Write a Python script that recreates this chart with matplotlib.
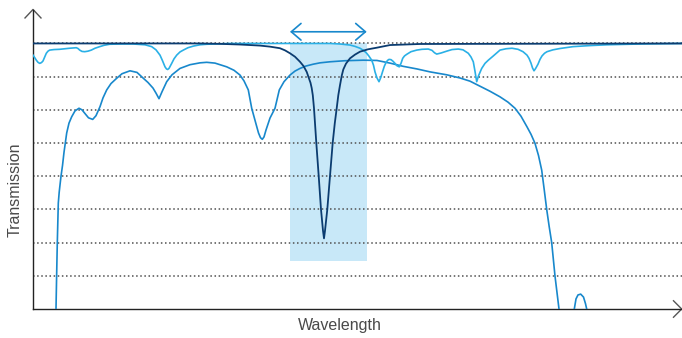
import matplotlib
matplotlib.use("Agg")
import matplotlib.pyplot as plt

# ---------------- data (wavelength in arbitrary units, transmission in %) ----------------
notch_x = [33, 200, 220, 240, 250, 260, 270, 275, 280, 285, 290, 295, 300, 303.5, 306.7, 309,
           310.5, 311.7, 312.8, 314, 316.3, 318.7, 321, 323, 324, 325, 327.3, 330, 332.7, 334.8,
           336.7, 338.3, 340, 341.7, 343.3, 346, 350, 355, 360, 368, 376.7, 390, 420, 682]
notch_y = [100, 100, 99.85, 99.6, 99.4, 99.2, 98.8, 98.5, 98.2, 97.4, 96.3, 95.0, 93.1, 91.5, 89.3, 86.8,
           85.2, 83.2, 80.5, 75.6, 62.6, 50.1, 37.5, 29.5, 26.6, 29.5, 37.5, 50.1, 62.6, 70.0,
           75.6, 80.5, 84.3, 87.8, 90.2, 92.4, 94.4, 95.8, 96.9, 97.8, 98.4, 99.4, 99.8, 100]

ripple_x = [33, 35, 36.3, 38, 39.7, 41.5, 43, 44.7, 46.3, 48, 49.7, 54, 59.7, 69.7, 76.3, 78, 79.7,
            82, 84.7, 88, 91.3, 95, 99.7, 104, 109.7, 120, 133, 145, 151.7, 156, 160, 162.5, 165,
            166.5, 167.7, 169, 171.7, 174, 176.7, 180, 183.3, 188, 193.3, 200, 206.7, 230, 330,
            340, 350, 355, 360, 363.5, 366.7, 369, 371.7, 373.5, 375, 377, 379, 380.8, 382.5,
            384.3, 386, 387.5, 389, 391, 393, 395, 397, 399.3, 401, 402.7, 404.5, 406.7, 411,
            416.7, 422, 428.3, 432, 434.5, 436.7, 441, 446.7, 452, 458.3, 463, 468.3, 471, 473.3,
            475, 476.7, 478.5, 481.7, 485, 488.3, 493, 500, 506, 512, 518, 523, 527, 529, 531,
            532.5, 534, 535.5, 538, 540, 542, 544.5, 547, 553, 560, 573, 590, 607, 640, 682]
ripple_y = [95.6, 94.5, 93.7, 92.9, 92.5, 92.8, 93.4, 94.9, 96.3, 97.1, 97.5, 97.7, 97.8, 98.2, 98.4, 98.1, 97.5,
            97.0, 96.9, 97.1, 97.5, 98.2, 98.8, 99.3, 99.7, 99.8, 99.8, 99.5, 98.8, 97.6, 95.6, 93.5, 91.2,
            90.4, 90.2, 90.6, 92.5, 94.2, 95.6, 96.8, 97.5, 98.4, 99.0, 99.5, 99.7, 100, 100,
            99.8, 99.4, 98.9, 98.2, 97.4, 96.3, 95.2, 93.7, 91.8, 89.3, 87.0, 85.6, 87.2, 89.3,
            91.4, 92.8, 93.6, 94.0, 93.9, 93.3, 92.5, 91.6, 91.2, 92.5, 94.4, 95.3, 95.9, 96.9,
            97.5, 97.8, 97.9, 97.4, 96.5, 96.0, 96.4, 97.1, 97.7, 97.9, 97.6, 96.3, 94.9, 93.1,
            89.5, 85.6, 87.8, 90.6, 92.5, 93.7, 95.2, 97.5, 98.0, 98.2, 97.8, 96.9, 95.6, 94.4, 92.6,
            90.8, 89.7, 90.5, 92.2, 94.0, 95.3, 96.3, 96.9, 97.6, 98.1, 98.8, 99.2, 99.5, 99.8, 100]

broad_x = [56, 56.6, 57.3, 58.3, 59.2, 60, 61, 62.5, 64, 66.7, 69, 71.7, 75, 79, 82, 85, 88.5, 92.7,
           96, 100, 103, 106.7, 111, 116.7, 122, 130, 137, 143.3, 148, 153, 156, 159, 162, 166.7,
           172, 180, 190, 200, 206.7, 215, 226.7, 234, 240, 244, 248.3, 251.7, 256, 258.5, 260.5,
           262.3, 264, 266, 270, 275, 279.3, 284, 290, 295, 300, 306, 313.3, 320, 330, 345, 363.3,
           377, 390, 403, 417, 430, 446.7, 460, 470, 480, 490, 500, 508, 515, 521, 527, 531, 535,
           538.5, 541.7, 544.2, 546.7, 549.2, 551.7, 555, 559]
broad_y = [0, 12, 25, 39.9, 44, 46.7, 50, 54, 59, 66.3, 70, 72.4, 74.6, 75.6, 75, 73.6, 72.0, 71.4,
           72.8, 76.2, 79.5, 82.5, 84.9, 86.9, 88.6, 89.7, 89.1, 86.9, 85.3, 83.2, 81.3, 79.2, 81.8, 85.6,
           88.2, 90.6, 92.0, 92.7, 92.9, 92.6, 91.2, 89.9, 88.1, 85.9, 82.5, 75.6, 69.7, 66.3, 64.5,
           63.9, 64.8, 67.4, 71.9, 75.6, 82.5, 85.6, 88.1, 89.6, 90.6, 91.5, 92.2, 92.7, 93.1, 93.5, 93.7,
           93.6, 92.6, 91.4, 90.4, 89.3, 88.2, 87.0, 85.8, 83.9, 82.0, 79.9, 77.9, 75.6, 72.6, 68.6, 65.8, 62.4,
           57.8, 52.3, 45.0, 37.5, 31.0, 25.0, 12.4, 0]

bump_x = [574.3, 576, 578, 580.7, 583.5, 585.5, 586.7]
bump_y = [0, 3.8, 5.3, 5.6, 4.5, 2.0, 0]

grid_levels = [12.5, 25, 37.5, 50, 62.5, 75, 87.5, 100]
band_x = [290, 366.7]
band_y = [18.2, 100]
arrow_y = 104.4

# ---------------- styles ----------------
C_LIGHT = "#2ab0e6"
C_MED = "#1888cc"
C_NAVY = "#0b3c70"
C_BAND = "#c8e8f8"
C_TEXT = "#4a4a4a"

W, H = 682, 338
fig = plt.figure(figsize=(W / 100, H / 100), dpi=100)
ax = fig.add_axes([33 / W, (H - 309) / H, 649 / W, 299 / H])
ax.set_xlim(33, 682)
ax.set_ylim(0, 112.6)

ax.fill_between(band_x, band_y[0], band_y[1], color=C_BAND, lw=0, zorder=1)
for g in grid_levels:
    ax.axhline(g, color="#505050", lw=1.1, ls=(0, (1, 1.7)), zorder=2)

ax.plot(broad_x, broad_y, color=C_MED, lw=1.2, zorder=3, solid_joinstyle="round")
ax.plot(bump_x, bump_y, color=C_MED, lw=1.2, zorder=3)
ax.plot(ripple_x, ripple_y, color=C_LIGHT, lw=1.2, zorder=4, solid_joinstyle="round")
ax.plot(notch_x, notch_y, color=C_NAVY, lw=1.3, zorder=5, solid_joinstyle="round")

ax.annotate("", xy=(band_x[0], arrow_y), xytext=(band_x[1], arrow_y),
            arrowprops=dict(arrowstyle="<->,head_length=0.7,head_width=0.6",
                            color=C_MED, lw=1.2, shrinkA=0, shrinkB=0), zorder=6)

for s in ["top", "right"]:
    ax.spines[s].set_visible(False)
for s in ["left", "bottom"]:
    ax.spines[s].set_color("#222222")
    ax.spines[s].set_linewidth(1.0)
ax.set_xticks([])
ax.set_yticks([])

# axis arrowheads (open chevrons)
ax.plot([25, 33, 41], [109.6, 112.8, 109.6], color="#555555", lw=1.0, clip_on=False)
ax.plot([673.5, 681.7, 673.5], [3.1, 0, -3.1], color="#555555", lw=1.0, clip_on=False)

ax.text(15, 45, "Transmission", rotation=90, ha="center", va="center",
        fontsize=11.5, color=C_TEXT, family="Liberation Sans", clip_on=False)
ax.text(340, -6.3, "Wavelength", ha="center", va="center",
        fontsize=11.5, color=C_TEXT, family="Liberation Sans", clip_on=False)

fig.savefig("out.png", dpi=100)
